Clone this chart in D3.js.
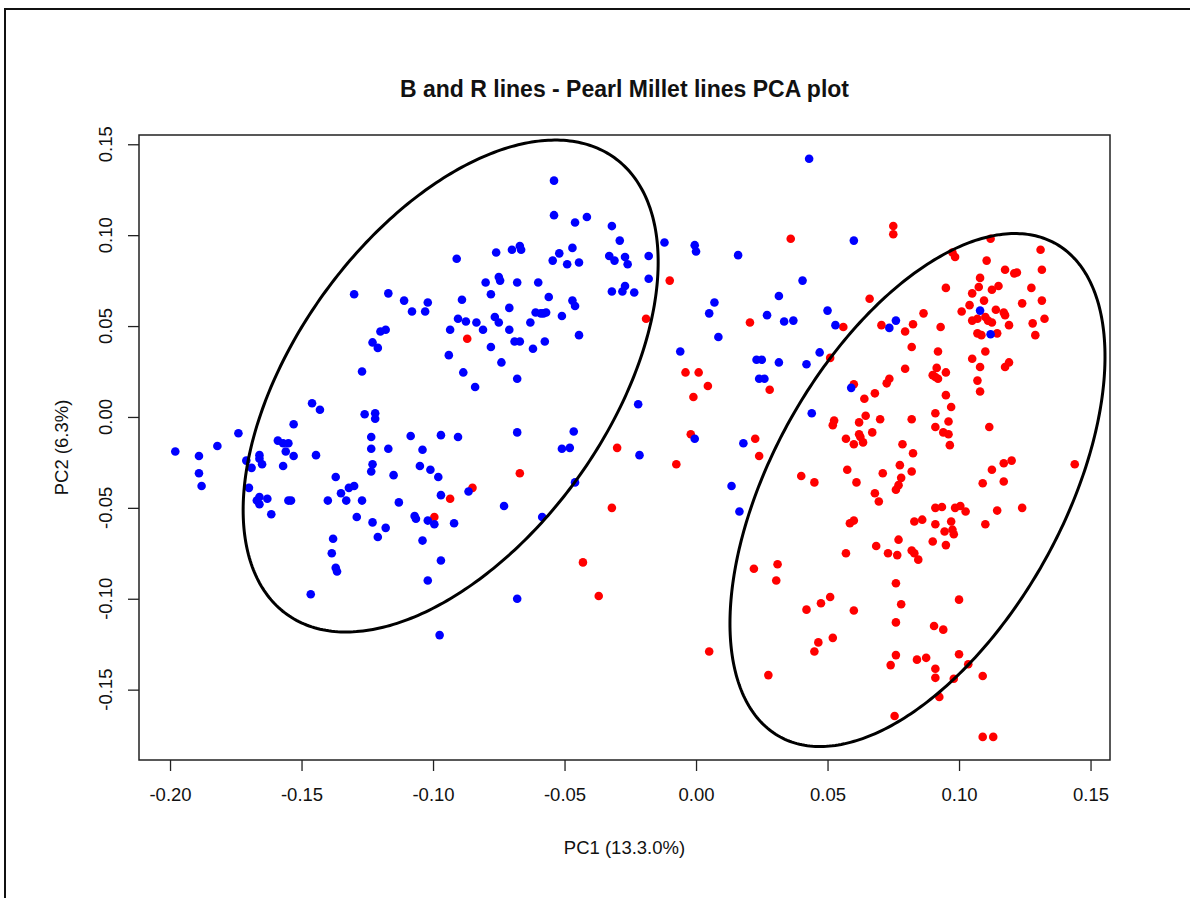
<!DOCTYPE html>
<html>
<head>
<meta charset="utf-8">
<script src="https://cdn.jsdelivr.net/npm/d3@7"></script>
<style>
  body { margin: 0; background: #fff; }
  text { font-family: "Liberation Sans", Arial, sans-serif; fill: #111; }
</style>
</head>
<body>
<script>
// Constants
var w = 1190,
    h = 898;

// Data: PCA scores (PC1, PC2)
var bLines = [
  [-0.130,0.0675],[-0.117,0.068],[-0.111,0.064],[-0.108,0.058],[-0.103,0.058],[-0.102,0.063],
  [-0.118,0.048],[-0.120,0.047],[-0.123,0.041],[-0.121,0.038],[-0.127,0.025],[-0.146,0.0075],
  [-0.143,0.004],[-0.153,-0.004],[-0.126,0.0015],[-0.122,0.002],[-0.122,-0.001],[-0.174,-0.009],
  [-0.159,-0.013],[-0.157,-0.0145],[-0.155,-0.0145],[-0.182,-0.016],[-0.1235,-0.011],[-0.1085,-0.0105],
  [-0.198,-0.019],[-0.189,-0.0215],[-0.189,-0.031],[-0.188,-0.038],[-0.171,-0.024],[-0.166,-0.021],
  [-0.166,-0.023],[-0.165,-0.026],[-0.169,-0.028],[-0.170,-0.039],[-0.156,-0.019],[-0.153,-0.0215],
  [-0.157,-0.027],[-0.1445,-0.021],[-0.167,-0.046],[-0.166,-0.044],[-0.166,-0.048],[-0.163,-0.045],
  [-0.155,-0.046],[-0.154,-0.046],[-0.1615,-0.0535],[-0.140,-0.046],[-0.137,-0.033],[-0.135,-0.042],
  [-0.133,-0.046],[-0.132,-0.039],[-0.130,-0.038],[-0.127,-0.046],[-0.129,-0.055],[-0.123,-0.058],
  [-0.118,-0.061],[-0.121,-0.066],[-0.1235,-0.0175],[-0.117,-0.0175],[-0.104,-0.018],[-0.105,-0.027],
  [-0.101,-0.029],[-0.123,-0.026],[-0.1235,-0.030],[-0.115,-0.032],[-0.113,-0.047],[-0.107,-0.0545],
  [-0.1065,-0.056],[-0.102,-0.057],[-0.104,-0.068],[-0.102,-0.090],[-0.138,-0.067],[-0.1385,-0.075],
  [-0.137,-0.083],[-0.1365,-0.085],[-0.1465,-0.0975],
  [-0.054,0.130],[-0.054,0.111],[-0.046,0.107],[-0.0415,0.110],[-0.032,0.105],[-0.029,0.097],
  [-0.012,0.096],[-0.0005,0.0945],[0.000,0.091],[-0.091,0.087],[-0.076,0.0905],[-0.070,0.092],
  [-0.067,0.094],[-0.0665,0.092],[-0.047,0.093],[-0.052,0.090],[-0.0545,0.086],[-0.049,0.084],
  [-0.0445,0.085],[-0.033,0.0885],[-0.031,0.086],[-0.027,0.088],[-0.026,0.084],[-0.018,0.0885],
  [-0.018,0.076],[-0.080,0.074],[-0.075,0.077],[-0.0745,0.075],[-0.068,0.074],[-0.060,0.074],
  [-0.032,0.069],[-0.028,0.069],[-0.027,0.072],[-0.0235,0.0685],[-0.089,0.0645],[-0.078,0.0675],
  [-0.056,0.066],[-0.071,0.060],[-0.047,0.064],[-0.046,0.061],[-0.061,0.0575],[-0.059,0.057],
  [-0.058,0.057],[-0.057,0.0575],[-0.051,0.0555],[-0.0905,0.054],[-0.0875,0.0525],[-0.0935,0.048],
  [-0.0835,0.052],[-0.081,0.048],[-0.0765,0.055],[-0.075,0.052],[-0.071,0.048],[-0.063,0.052],
  [-0.0445,0.045],[-0.094,0.034],[-0.078,0.0385],[-0.069,0.0415],[-0.067,0.0415],[-0.0575,0.0415],
  [-0.062,0.0375],[-0.074,0.030],[-0.0885,0.0245],[-0.084,0.0165],[-0.068,0.021],[-0.022,0.007],
  [-0.006,0.036],[-0.0005,-0.012],[-0.097,-0.010],[-0.0905,-0.011],[-0.068,-0.0085],[-0.0465,-0.008],
  [-0.051,-0.0175],[-0.048,-0.017],[-0.0215,-0.021],[-0.098,-0.033],[-0.097,-0.043],[-0.0865,-0.041],
  [-0.073,-0.049],[-0.046,-0.036],[-0.0585,-0.055],[-0.0995,-0.059],[-0.092,-0.0585],[-0.097,-0.079],
  [-0.068,-0.100],[-0.0975,-0.120],
  [0.043,0.142],[0.060,0.097],[0.016,0.089],[0.0405,0.075],[0.0315,0.0665],[0.007,0.063],
  [0.005,0.057],[0.027,0.056],[0.0335,0.0525],[0.037,0.053],[0.050,0.0585],[0.053,0.0505],
  [0.0085,0.044],[0.023,0.0315],[0.025,0.0315],[0.0315,0.030],[0.042,0.029],[0.047,0.0355],
  [0.024,0.021],[0.026,0.021],[0.044,0.002],[0.059,0.016],[0.018,-0.0145],[0.0735,0.049],
  [0.076,0.053],[0.108,0.0585],[0.112,0.0455],[0.0135,-0.038],[0.0165,-0.052]
];

var rLines = [
  [-0.087,0.043],[-0.019,0.054],[-0.010,0.075],[-0.004,0.0245],[0.001,0.0245],[-0.001,0.011],
  [-0.002,-0.0095],[-0.030,-0.017],[-0.0075,-0.026],[-0.067,-0.031],[-0.0935,-0.045],[-0.085,-0.039],
  [-0.032,-0.050],[-0.0995,-0.055],[-0.043,-0.080],[-0.037,-0.0985],
  [0.075,0.105],[0.075,0.1005],[0.036,0.098],[0.0205,0.052],[0.056,0.0495],[0.066,0.065],
  [0.051,0.0325],[0.028,0.015],[0.0045,0.017],[0.060,0.018],[0.0225,-0.012],[0.0705,0.0505],
  [0.0795,0.047],[0.0825,0.051],[0.0865,0.057],[0.093,0.0495],[0.095,0.071],[0.0975,0.0905],
  [0.0985,0.088],[0.112,0.098],[0.1105,0.086],[0.108,0.0765],[0.1075,0.0715],[0.105,0.068],
  [0.1125,0.070],[0.115,0.072],[0.1095,0.064],[0.104,0.0615],[0.101,0.058],[0.114,0.059],
  [0.105,0.053],[0.107,0.054],[0.110,0.055],[0.111,0.053],[0.1125,0.052],[0.107,0.046],
  [0.1085,0.045],[0.1145,0.046],[0.082,0.0385],[0.092,0.036],[0.110,0.036],[0.105,0.032],
  [0.108,0.0275],[0.0795,0.0265],[0.0915,0.027],[0.090,0.023],[0.091,0.022],[0.092,0.021],
  [0.095,0.0245],[0.107,0.020],[0.108,0.014],[0.0735,0.021],[0.0725,0.0185],[0.068,0.013],
  [0.064,0.010],[0.095,0.012],[0.097,0.0055],[0.091,0.002],[0.096,-0.0025],[0.082,-0.0013],
  [0.070,-0.0013],[0.0645,0.0007],[0.062,-0.003],[0.0525,-0.002],[0.052,-0.0045],[0.091,-0.0055],
  [0.094,-0.0085],[0.096,-0.0095],[0.1115,-0.0055],[0.062,-0.0095],[0.0625,-0.011],[0.067,-0.0085],
  [0.057,-0.012],[0.060,-0.015],[0.0635,-0.014],[0.0785,-0.015],[0.0965,-0.0155],[0.024,-0.0215],
  [0.0825,-0.020],[0.1125,-0.029],[0.109,-0.0365],[0.1145,-0.0515],[0.110,-0.059],[0.040,-0.0325],
  [0.045,-0.036],[0.0575,-0.029],[0.061,-0.036],[0.071,-0.031],[0.0775,-0.0265],[0.082,-0.030],
  [0.078,-0.0335],[0.077,-0.0375],[0.076,-0.040],[0.068,-0.042],[0.0695,-0.0465],[0.0585,-0.0585],
  [0.060,-0.057],[0.083,-0.0575],[0.086,-0.0565],[0.091,-0.050],[0.0935,-0.0495],[0.0985,-0.050],
  [0.1005,-0.049],[0.1025,-0.052],[0.091,-0.059],[0.097,-0.0575],[0.0945,-0.063],[0.0975,-0.062],
  [0.098,-0.0645],[0.090,-0.0685],[0.095,-0.0705],[0.077,-0.0675],[0.0685,-0.071],[0.057,-0.075],
  [0.073,-0.075],[0.0765,-0.076],[0.082,-0.0735],[0.083,-0.075],[0.0845,-0.0785],[0.022,-0.0835],
  [0.031,-0.081],[0.0305,-0.090],[0.076,-0.0915],[0.042,-0.106],[0.0475,-0.1025],[0.051,-0.099],
  [0.060,-0.1065],[0.078,-0.103],[0.100,-0.1005],[0.076,-0.113],[0.0905,-0.115],[0.094,-0.117],
  [0.005,-0.129],[0.0465,-0.124],[0.045,-0.129],[0.052,-0.1215],[0.076,-0.131],[0.074,-0.1365],
  [0.084,-0.1335],[0.0875,-0.1325],[0.100,-0.1305],[0.1035,-0.136],[0.091,-0.1385],[0.091,-0.1435],
  [0.098,-0.144],[0.109,-0.1425],[0.0925,-0.154],[0.0275,-0.142],[0.0755,-0.1645],[0.109,-0.176],
  [0.113,-0.176],
  [0.131,0.092],[0.1315,0.081],[0.1175,0.081],[0.121,0.079],[0.122,0.0795],[0.1275,0.071],
  [0.124,0.0625],[0.1315,0.064],[0.1325,0.054],[0.128,0.0515],[0.129,0.045],[0.117,0.0575],
  [0.1175,0.056],[0.119,0.0505],[0.1175,0.0275],[0.119,0.030],[0.117,-0.0255],[0.120,-0.024],
  [0.117,-0.0355],[0.124,-0.050],[0.144,-0.026]
];

// Ellipses: centre, half-extents along PC1 / PC2, correlation
var ellCx = [-0.0933, 0.0842],
    ellCy = [0.0170, -0.0402],
    ellSx = [0.0789, 0.0713],
    ellSy = [0.1353, 0.1411],
    ellRho = [0.504, 0.520];

var xTicks = [-0.20, -0.15, -0.10, -0.05, 0.00, 0.05, 0.10, 0.15];
var yTicks = [-0.15, -0.10, -0.05, 0.00, 0.05, 0.10, 0.15];

// Scales
var xScale = d3.scaleLinear()
               .domain([-0.2118, 0.1574])
               .range([139, 1110]);

var yScale = d3.scaleLinear()
               .domain([-0.1887, 0.1551])
               .range([760, 135]);

var fmt = function(d) { return d.toFixed(2); };

// Create svg
var svg = d3.select('body')
            .append('svg')
            .attr('width', w)
            .attr('height', h);

svg.append('rect')
   .attr('width', w).attr('height', h)
   .attr('fill', '#fff');

// outer frame of the image
svg.append('rect')
   .attr('x', 5).attr('y', 9)
   .attr('width', w + 20).attr('height', h + 20)
   .attr('fill', 'none')
   .attr('stroke', '#111')
   .attr('stroke-width', 2);

// Title
svg.append('text')
   .attr('x', (139 + 1110) / 2)
   .attr('y', 97)
   .attr('text-anchor', 'middle')
   .style('font-weight', 'bold')
   .style('font-size', '23px')
   .text('B and R lines - Pearl Millet lines PCA plot');

// Points: red first, blue on top
svg.append('g')
   .selectAll('circle')
   .data(rLines)
   .enter()
   .append('circle')
   .attr('cx', function(d) { return xScale(d[0]); })
   .attr('cy', function(d) { return yScale(d[1]); })
   .attr('r', 4.3)
   .attr('fill', '#ff0000');

svg.append('g')
   .selectAll('circle')
   .data(bLines)
   .enter()
   .append('circle')
   .attr('cx', function(d) { return xScale(d[0]); })
   .attr('cy', function(d) { return yScale(d[1]); })
   .attr('r', 4.3)
   .attr('fill', '#0000ff');

// Ellipses, built in data units then scaled
var line = d3.line()
             .x(function(d) { return xScale(d[0]); })
             .y(function(d) { return yScale(d[1]); });

ellCx.forEach(function(cx, i) {
  var pts = d3.range(0, 361).map(function(a) {
    var t = a * Math.PI / 180,
        r = ellRho[i];
    return [cx + ellSx[i] * Math.cos(t),
            ellCy[i] + ellSy[i] * (r * Math.cos(t) + Math.sqrt(1 - r * r) * Math.sin(t))];
  });
  svg.append('path')
     .datum(pts)
     .attr('d', line)
     .attr('fill', 'none')
     .attr('stroke', '#000')
     .attr('stroke-width', 3);
});

// Axes
var xAxis = d3.axisBottom(xScale)
              .tickValues(xTicks)
              .tickFormat(fmt)
              .tickSize(11)
              .tickSizeOuter(0)
              .tickPadding(17);

var yAxis = d3.axisLeft(yScale)
              .tickValues(yTicks)
              .tickFormat('')
              .tickSize(11)
              .tickSizeOuter(0);

var gx = svg.append('g')
   .attr('transform', 'translate(0,760)')
   .call(xAxis);
gx.select('.domain').remove();
gx.selectAll('line').attr('stroke', '#222').attr('stroke-width', 1.3);
gx.selectAll('text')
  .style('font-size', '18.5px')
  .style('font-family', '"Liberation Sans", Arial, sans-serif')
  .attr('fill', '#111');

var gy = svg.append('g')
   .attr('transform', 'translate(139,0)')
   .call(yAxis);
gy.select('.domain').remove();
gy.selectAll('line').attr('stroke', '#222').attr('stroke-width', 1.3);

// rotated y tick labels, R style
svg.append('g')
   .selectAll('text')
   .data(yTicks)
   .enter()
   .append('text')
   .attr('transform', function(d) { return 'translate(112,' + yScale(d) + ') rotate(-90)'; })
   .attr('text-anchor', 'middle')
   .style('font-size', '18.5px')
   .text(fmt);

// plot box
svg.append('rect')
   .attr('x', 139).attr('y', 135)
   .attr('width', 1110 - 139).attr('height', 760 - 135)
   .attr('fill', 'none')
   .attr('stroke', '#222')
   .attr('stroke-width', 1.5);

// Axis titles
svg.append('text')
   .attr('x', (139 + 1110) / 2)
   .attr('y', 854)
   .attr('text-anchor', 'middle')
   .style('font-size', '18.5px')
   .text('PC1 (13.3.0%)');

svg.append('text')
   .attr('transform', 'translate(68,' + (135 + 760) / 2 + ') rotate(-90)')
   .attr('text-anchor', 'middle')
   .style('font-size', '18.5px')
   .text('PC2 (6.3%)');
</script>
</body>
</html>
